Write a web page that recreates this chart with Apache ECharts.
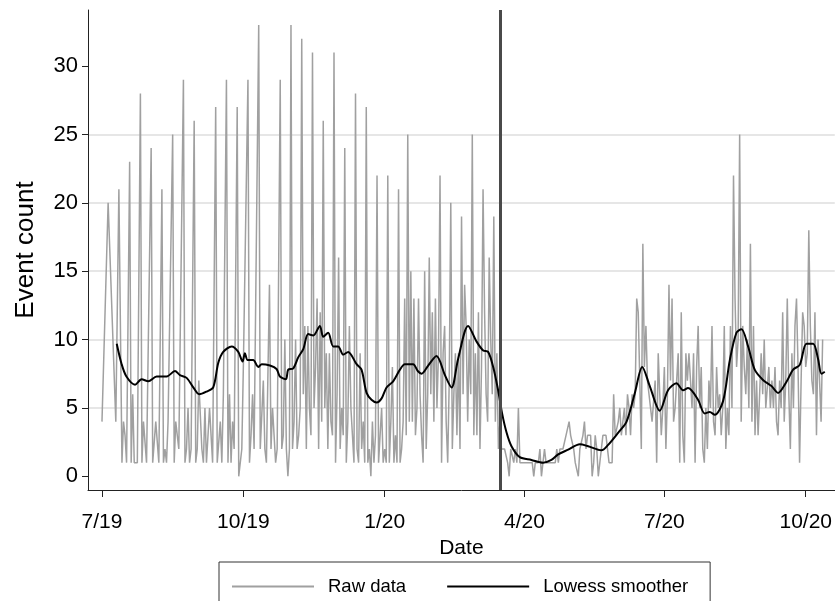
<!DOCTYPE html>
<html>
<head>
<meta charset="utf-8">
<script src="https://cdn.jsdelivr.net/npm/echarts@6/dist/echarts.min.js"></script>
<style>
  html, body { margin: 0; padding: 0; background: #fff; }
  #chart { width: 835px; height: 601px; }
</style>
</head>
<body>
<div id="chart"></div>
<script>
// Day 0 of the series; every x value below is a day offset from it.
const startDate = '2019-07-01';
const tickDates = ['2019-07-01', '2019-10-01', '2020-01-01', '2020-04-01', '2020-07-01', '2020-10-01'];
const tickLabels = ['7/19', '10/19', '1/20', '4/20', '7/20', '10/20'];
const yTicks = [0, 5, 10, 15, 20, 25, 30];
const eventDate = '2020-03-16';

// Daily counts before 2020 (days without events are absent): [day, count]
const rawEarly = [
  [0,4],[4,20],[9,4],[10,4],[11,21],[13,1],[14,4],[15,3],[16,1],[18,23],[19,1],[20,6],[21,1],[23,1],
  [25,28],[26,1],[27,4],[28,4],[29,1],[32,24],[33,1],[35,4],[37,1],[39,21],[40,1],[41,2],[42,1],[43,4],
  [46,25],[47,1],[48,4],[49,4],[50,2],[53,29],[54,1],[55,2],[56,5],[57,1],[58,2],[60,26],[61,1],[62,2],
  [63,7],[64,7],[65,2],[66,1],[67,5],[68,1],[70,5],[71,5],[72,1],[74,27],[75,1],[76,1],[77,4],[78,1],
  [79,6],[81,29],[82,1],[83,6],[84,1],[85,4],[86,2],[88,27],[89,0],[91,2],[92,8],[95,29],[96,1],[97,3],
  [98,6],[99,2],[102,33],[103,2],[104,2],[105,7],[106,2],[107,1],[109,14],[110,2],[111,5],[112,3],[113,1],
  [114,2],[116,29],[117,2],[118,3],[119,10],[120,2],[121,0],[122,2],[123,33],[124,2],[125,4],[126,10],
  [127,2],[128,3],[129,5],[130,32],[131,6],[132,11],[133,2],[134,11],[135,5],[136,3],[137,31],[138,5],
  [139,8],[140,13],[141,2],[142,12],[143,4],[144,26],[145,5],[146,9],[147,2],[148,9],[149,4],[150,3],
  [151,31],[152,1],[153,6],[154,16],[155,2],[156,5],[157,3],[158,24],[159,1],[160,4],[161,11],[162,5],
  [163,3],[164,1],[165,28],[166,2],[167,1],[168,9],[169,2],[170,4],[171,1],[172,27],[173,1],[174,2],
  [175,0],[176,4],[177,1],[178,3],[179,22],[180,1],[181,3],[182,5],[183,1],[184,2],[185,1],[186,22],
  [187,1],[188,4],[189,8],[190,1],[191,3],[192,1],[193,21],[194,1],[195,2],[196,4],[197,13],[198,3]
];

// Consecutive daily counts from rawDailyStart onward
const rawDailyStart = 199;
const rawDaily = [
  25,4,15,4,13,3,5,13,6,3,1,15,2,6,16,6,12,4,13,5,9,22,1,9,11,4,1,7,20,2,
  6,9,3,9,2,19,6,14,11,4,10,6,25,3,9,3,12,2,8,21,12,6,4,16,10,6,19,4,9,2,
  4,2,2,2,2,1,0,2,2,1,2,1,5,1,1,1,1,1,1,1,1,1,0,1,1,1,2,0,1,2,
  1,1,1,1,1,1,1,2,1,2,2,2,2,3,3,4,3,3,2,1,1,0,2,2,3,4,2,3,3,3,
  0,1,3,2,0,1,2,3,3,3,3,1,1,1,6,3,3,4,5,3,4,5,3,6,5,3,6,5,6,13,
  12,7,2,17,8,11,7,6,5,4,4,7,1,9,6,3,5,8,2,6,14,7,13,4,5,7,9,1,12,3,
  1,9,7,9,7,5,9,1,8,11,5,8,2,1,5,2,7,5,11,4,3,8,5,6,3,5,11,2,5,3,
  11,5,22,13,8,10,25,4,11,8,6,10,5,17,4,11,3,7,3,6,9,6,10,5,5,8,5,7,5,8,
  4,3,7,5,12,4,7,13,6,2,9,5,11,13,8,1,7,12,11,8,9,18,11,7,6,12,3,10,7,4,
  10
];

// Lowess smoother: [day, fitted count]
const lowessPoints = [
  [9.6,9.7],[12.8,8.2],[15.9,7.3],[21.5,6.7],[25.8,7.1],[30.1,6.95],[35.6,7.3],[42.1,7.3],[47.5,7.7],
  [50.7,7.4],[55.1,7.2],[59.4,6.5],[63.3,6.0],[68.1,6.2],[72.4,6.5],[75.7,8.3],[78.9,9.1],[84.4,9.5],
  [88.7,9.1],[91.5,8.4],[93,9.0],[94.8,8.5],[98.4,8.5],[101.7,8.0],[104,8.2],[109.3,8.1],[113.6,7.85],
  [115.8,7.3],[119.7,7.1],[121.2,7.8],[124.5,7.9],[127.7,8.7],[131,9.3],[134.2,10.4],[137.5,10.3],
  [141.8,11.0],[144,10.2],[147.2,10.5],[150.5,9.5],[153.7,9.5],[157,8.9],[160.2,9.1],[165.7,8.2],
  [168.9,7.8],[172.2,6.1],[175.4,5.6],[178.7,5.4],[182,5.7],[185.2,6.5],[189.5,6.95],[193.9,7.8],
  [197.1,8.2],[202.5,8.2],[205.5,7.7],[208,7.5],[212.3,8.1],[217.7,8.8],[223.2,7.4],[227.5,6.5],
  [231.8,8.6],[238.3,11.0],[243.8,9.85],[248.1,9.2],[251.3,9.1],[254.6,8.0],[257.8,6.3],[260.4,4.6],
  [263.3,3.2],[266.5,2.2],[271.9,1.4],[279.5,1.2],[287.1,1.0],[292.5,1.2],[296.9,1.6],[303.4,1.95],
  [311,2.35],[316.4,2.2],[325.1,1.9],[329.4,2.3],[336,3.2],[341.4,4.0],[346.8,6.1],[351.6,8.0],
  [356.5,6.6],[363,4.8],[368.4,6.3],[373.9,6.8],[378.2,6.3],[381.4,6.45],[387.9,5.6],[392.2,4.6],
  [395.5,4.7],[398.8,4.5],[404.2,5.5],[408.6,8.5],[412.9,10.5],[416.2,10.75],[420.5,9.5],[424.8,7.8],
  [430.2,7.05],[435.7,6.6],[440,6.1],[445.4,6.9],[449.8,7.8],[454.1,8.15],[458.5,9.7],[462.8,9.7],
  [466,8.6],[468.2,7.5],[470.4,7.65]
];

function dayOf(s) {
  const [y, m, d] = s.split('-').map(Number);
  const [y0, m0, d0] = startDate.split('-').map(Number);
  return Math.round((Date.UTC(y, m - 1, d) - Date.UTC(y0, m0 - 1, d0)) / 864e5);
}

const tickDays = tickDates.map(dayOf);
const rawPoints = rawEarly.concat(rawDaily.map((v, i) => [rawDailyStart + i, v]));
const font = "'Liberation Sans', Arial, Helvetica, sans-serif";

const chart = echarts.init(document.getElementById('chart'), null, { renderer: 'canvas' });
chart.setOption({
  animation: false,
  backgroundColor: '#fff',
  textStyle: { fontFamily: font, color: '#000' },
  grid: { left: 88, right: 0, top: 10, bottom: 111 },
  xAxis: {
    type: 'value',
    min: -9.1,
    max: 476.9,
    name: 'Date',
    nameLocation: 'middle',
    nameGap: 36,
    nameTextStyle: { fontSize: 21, color: '#000', fontFamily: font },
    axisLine: { show: true, onZero: false, lineStyle: { color: '#222', width: 1 } },
    axisTick: { show: true, customValues: tickDays, length: 7, lineStyle: { color: '#222', width: 1 } },
    axisLabel: {
      customValues: tickDays,
      formatter: v => tickLabels[tickDays.indexOf(v)] || '',
      fontSize: 21, color: '#000', fontFamily: font, margin: 22
    },
    splitLine: { show: false }
  },
  yAxis: {
    type: 'value',
    min: -1,
    max: 34.1,
    name: 'Event count',
    nameLocation: 'middle',
    nameGap: 49,
    nameTextStyle: { fontSize: 26, color: '#000', fontFamily: font },
    axisLine: { show: true, onZero: false, lineStyle: { color: '#222', width: 1 } },
    axisTick: { show: true, customValues: yTicks, length: 6, lineStyle: { color: '#222', width: 1 } },
    axisLabel: { customValues: yTicks, fontSize: 22, color: '#000', fontFamily: font, margin: 10 },
    splitLine: { show: true, showMinLine: false, showMaxLine: false, lineStyle: { color: '#dedede', width: 1.5 } }
  },
  legend: {
    data: ['Raw data', 'Lowess smoother'],
    left: 219,
    top: 562,
    padding: [15, 22, 20, 12],
    itemWidth: 82,
    itemHeight: 14,
    itemGap: 40,
    borderColor: '#333',
    borderWidth: 1,
    itemStyle: { opacity: 0 },
    textStyle: { fontSize: 18.5, color: '#000', fontFamily: font, padding: [0, 0, 0, 9] }
  },
  series: [
    {
      name: 'Raw data',
      type: 'line',
      data: rawPoints,
      symbol: 'none',
      z: 2,
      lineStyle: { color: '#a0a0a0', width: 1.5 },
      itemStyle: { color: '#a0a0a0' },
      emphasis: { disabled: true },
      markLine: {
        silent: true,
        symbol: ['none', 'none'],
        label: { show: false },
        lineStyle: { color: '#4a4a4a', width: 3, type: 'solid' },
        data: [{ xAxis: dayOf(eventDate) }]
      }
    },
    {
      name: 'Lowess smoother',
      type: 'line',
      data: lowessPoints,
      symbol: 'none',
      smooth: 0.3,
      z: 3,
      lineStyle: { color: '#000', width: 2 },
      itemStyle: { color: '#000' },
      emphasis: { disabled: true }
    }
  ]
});
</script>
</body>
</html>
